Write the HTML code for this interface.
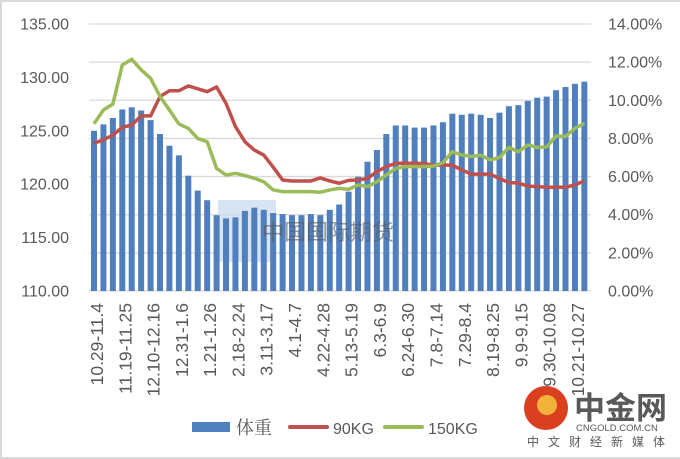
<!DOCTYPE html>
<html><head><meta charset="utf-8">
<style>
html,body{margin:0;padding:0;background:#fff;}
#wrap{position:relative;width:680px;height:459px;overflow:hidden;box-sizing:border-box;border:2px solid #d9d9d9;border-right:none;}
svg{position:absolute;left:-2px;top:-2px;}
text{font-family:"Liberation Sans","Noto Sans CJK SC",sans-serif;fill:#595959;}
</style></head>
<body>
<div id="wrap">
<svg id="chart" width="680" height="459"></svg>
</div>
<script>
const categories = ["10.29-11.4","11.19-11.25","12.10-12.16","12.31-1.6","1.21-1.26","2.18-2.24","3.11-3.17","4.1-4.7","4.22-4.28","5.13-5.19","6.3-6.9","6.24-6.30","7.8-7.14","7.29-8.4","8.19-8.25","9.9-9.15","9.30-10.08","10.21-10.27"];
const weight = [125.0,125.6,126.2,127.0,127.2,126.9,126.0,124.7,123.6,122.7,120.8,119.4,118.5,117.1,116.8,116.9,117.5,117.8,117.6,117.3,117.2,117.1,117.1,117.2,117.1,117.6,118.1,119.3,120.7,122.1,123.2,124.7,125.5,125.5,125.3,125.3,125.5,125.8,126.6,126.5,126.6,126.5,126.2,126.7,127.3,127.4,127.8,128.1,128.2,128.8,129.1,129.4,129.6];
const kg90 = [7.75,7.92,8.18,8.58,8.7,9.18,9.18,10.2,10.5,10.5,10.75,10.6,10.45,10.7,9.84,8.62,7.83,7.39,7.13,6.5,5.82,5.77,5.77,5.77,5.93,5.77,5.65,5.8,5.82,5.9,6.26,6.52,6.7,6.7,6.7,6.68,6.6,6.6,6.6,6.35,6.13,6.13,6.13,5.9,5.68,5.66,5.5,5.47,5.44,5.44,5.44,5.56,5.78];
const kg150 = [8.77,9.49,9.8,11.85,12.15,11.6,11.15,10.2,9.49,8.76,8.53,8.0,7.83,6.43,6.08,6.17,6.05,5.91,5.73,5.3,5.21,5.21,5.21,5.21,5.18,5.3,5.38,5.33,5.56,5.47,5.73,6.08,6.43,6.52,6.52,6.52,6.55,6.73,7.3,7.13,7.05,7.12,6.87,7.0,7.53,7.3,7.66,7.53,7.55,8.13,8.1,8.53,8.79];
const leftTicks = [110,115,120,125,130,135];
const rightTicks = [0,2,4,6,8,10,12,14];
const labelEvery = 3;

const NS="http://www.w3.org/2000/svg";
const svg=document.getElementById('chart');
const X0=94, STEP=9.43, Y0=291, Y1=24;
const xBar=i=>X0+i*STEP;
const yL=v=>Y0-(v-110)/25*(Y0-Y1);
const yR=v=>Y0-v/14*(Y0-Y1);
function mk(tag,attrs){const e=document.createElementNS(NS,tag);for(const k in attrs)e.setAttribute(k,attrs[k]);svg.appendChild(e);return e;}

rightTicks.forEach(t=>{
  const g=mk('line',{x1:89,x2:591,y1:yR(t),y2:yR(t),stroke:'#d9d9d9','stroke-width':1.3});
  
  
  const l=mk('text',{x:608,y:yR(t)+5.5,'font-size':16});
  l.textContent=t.toFixed(2)+'%';
  
  
});
leftTicks.forEach(t=>{
  const l=mk('text',{x:69,y:yL(t)+5.5,'font-size':16,'text-anchor':'end'});
  l.textContent=t.toFixed(2);
  
  
});
const wm=mk('rect',{x:218,y:200,width:58,height:62,fill:'#c9d8ee',opacity:0.7});


weight.forEach((v,i)=>{
  const b=mk('rect',{x:xBar(i)-3,y:yL(v),width:6,height:Y0-yL(v),fill:'#4f7fbd'});
  
  
});
const wt=mk('text',{x:262,y:240,'font-size':22,fill:'#c8c8c8',opacity:0.6});
wt.textContent='中国国际期货';


function line(arr,color,name){
  const p=mk('polyline',{points:arr.map((v,i)=>xBar(i)+','+yR(v)).join(' '),fill:'none',stroke:color,'stroke-width':3.5,'stroke-linejoin':'round'});
  
  
}
line(kg90,'#c0504d','line-90kg');
line(kg150,'#9bbb59','line-150kg');
categories.forEach((c,i)=>{
  const x=xBar(i*labelEvery)+3+6;
  const t=mk('text',{x:0,y:0,'font-size':17.5,'text-anchor':'end',transform:`translate(${x},303) rotate(-90)`});
  t.textContent=c;
  
  
});
const lg=[['rect',192,'体重','#4f7fbd','legend-weight'],['line',290,'90KG','#c0504d','legend-90kg'],['line',385,'150KG','#9bbb59','legend-150kg']];
lg.forEach(([k,x,label,col,name])=>{
  let m;
  if(k==='rect') m=mk('rect',{x:x,y:422,width:38,height:10,fill:col});
  else m=mk('line',{x1:x,x2:x+37,y1:427,y2:427,stroke:col,'stroke-width':4,'stroke-linecap':'round'});
  
  
  const t=mk('text',{x:x+(k==='rect'?44:43),y:434,'font-size':16});
  if(k==='rect'){t.setAttribute('style','font-family:"Noto Serif CJK SC",serif');t.setAttribute('font-size','18');}
  t.textContent=label;
  
  
});
const c=mk('circle',{cx:546,cy:408,r:22,fill:'#d9401f'});


const c2=mk('circle',{cx:547,cy:405,r:10,fill:'#f2b33d'});


const t1=mk('text',{x:574,y:419,'font-size':31,fill:'#a0a0a0','font-weight':'bold'});
t1.textContent='中金网';


const t2=mk('text',{x:576,y:431,'font-size':9.5,fill:'#a8a8a8'});
t2.textContent='CNGOLD.COM.CN';


const t3=mk('text',{x:527,y:446,'font-size':12,fill:'#b0b0b0','letter-spacing':'9'});
t3.textContent='中文财经新媒体';


</script>
</body></html>
